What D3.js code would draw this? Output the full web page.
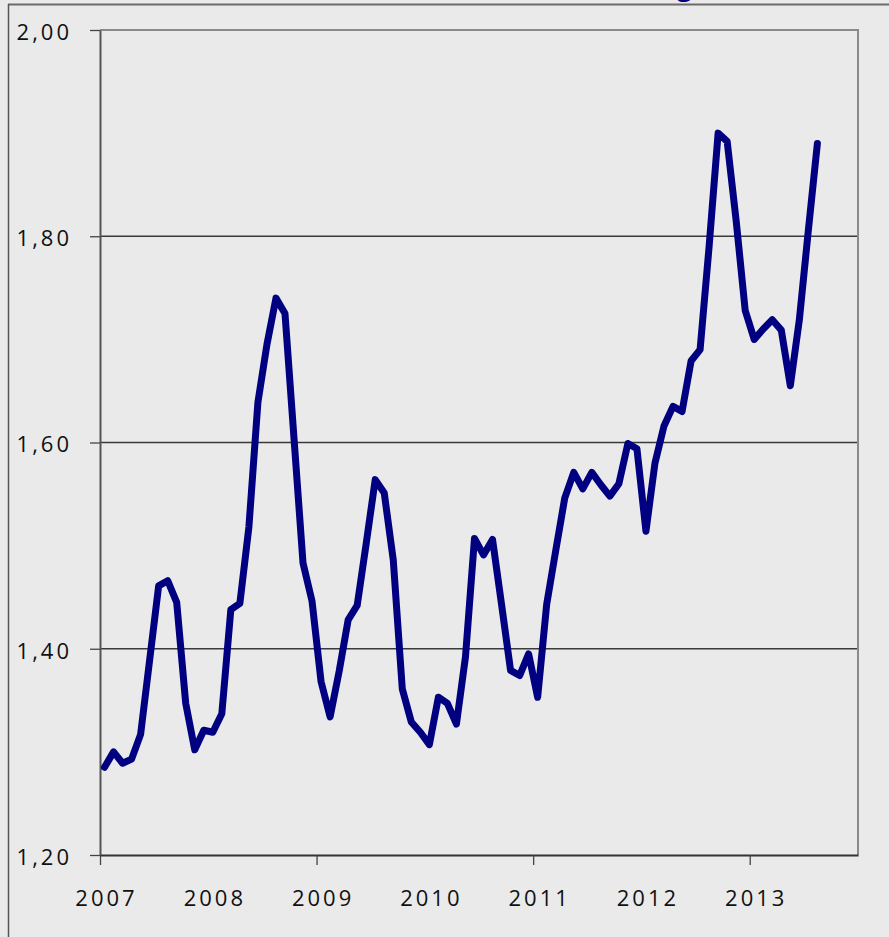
<!DOCTYPE html>
<html>
<head>
<meta charset="utf-8">
<script src="https://cdn.jsdelivr.net/npm/d3@7"></script>
<style>
  body { margin: 0; background: #eaeaea; overflow: hidden; }
  svg { display: block; }
  text { font-family: "Open Sans", sans-serif; fill: #111; }
</style>
</head>
<body>
<script>
// monthly values, Jan 2007 .. Aug 2013
var values = [
  1.285, 1.300, 1.289, 1.293, 1.317, 1.389, 1.461, 1.466, 1.445, 1.347, 1.302, 1.321,
  1.319, 1.337, 1.438, 1.444, 1.518, 1.639, 1.695, 1.740, 1.725, 1.604, 1.483, 1.446,
  1.368, 1.334, 1.378, 1.428, 1.442, 1.502, 1.564, 1.551, 1.486, 1.361, 1.329, 1.319,
  1.307, 1.353, 1.347, 1.327, 1.392, 1.507, 1.491, 1.506, 1.443, 1.379, 1.374, 1.395,
  1.353, 1.443, 1.495, 1.546, 1.571, 1.555, 1.571, 1.559, 1.548, 1.560, 1.599, 1.594,
  1.514, 1.580, 1.616, 1.635, 1.630, 1.679, 1.690, 1.790, 1.900, 1.892, 1.815, 1.728,
  1.700, 1.710, 1.719, 1.709, 1.655, 1.719, 1.806, 1.890
];
var years = ["2007", "2008", "2009", "2010", "2011", "2012", "2013"];
var yTicks = [1.2, 1.4, 1.6, 1.8, 2.0];
var monthsShown = 84;

var w = 889;
var h = 937;
var plotL = 100, plotR = 858, plotT = 30, plotB = 855;

var svg = d3.select("body")
            .append("svg")
            .attr("width", w)
            .attr("height", h);

// outer frame of the chart box (cut off at right / bottom)
svg.append("line").attr("x1", 8).attr("x2", w).attr("y1", 4.5).attr("y2", 4.5)
   .attr("stroke", "#6b6b6b").attr("stroke-width", 2);
svg.append("line").attr("x1", 8.5).attr("x2", 8.5).attr("y1", 4).attr("y2", h)
   .attr("stroke", "#555").attr("stroke-width", 1.5);

// bit of the title that is visible at the top edge
svg.append("text")
   .attr("x", 677).attr("y", -4)
   .style("font-size", "26px").style("font-weight", "bold").style("fill", "#000080")
   .text("g");

var x = d3.scaleLinear().domain([0, monthsShown]).range([plotL, plotR]);
var y = d3.scaleLinear().domain([1.2, 2.0]).range([plotB, plotT]);

//gridlines
svg.append("g")
   .selectAll("line")
   .data(yTicks.filter(function(d){ return d > 1.2 && d < 2.0; }))
   .enter()
   .append("line")
   .attr("x1", plotL).attr("x2", plotR)
   .attr("y1", function(d){ return y(d); })
   .attr("y2", function(d){ return y(d); })
   .attr("stroke", "#3a3a3a")
   .attr("stroke-width", 1.3);

// top and right border of plot
svg.append("path")
   .attr("d", "M" + plotL + "," + plotT + "H" + plotR + "V" + plotB)
   .attr("fill", "none")
   .attr("stroke", "#8a8a8a")
   .attr("stroke-width", 2);

//y axis
var yAxis = d3.axisLeft(y)
    .tickValues(yTicks)
    .tickSize(10)
    .tickSizeOuter(0)
    .tickPadding(18)
    .tickFormat(function(d){ return d.toFixed(2).replace(".", ","); });

var yg = svg.append("g")
   .attr("transform", "translate(" + plotL + ",0)")
   .call(yAxis);
yg.select(".domain").attr("stroke", "#555").attr("stroke-width", 2);
yg.selectAll(".tick line").attr("stroke", "#444").attr("stroke-width", 1.3);
yg.selectAll(".tick text")
  .attr("dy", "0.43em")
  .style("font-size", "22px")
  .style("letter-spacing", "3px");

//x axis: tick marks every two years
var xTicks = d3.axisBottom(x)
    .tickValues(d3.range(0, monthsShown, 24))
    .tickSize(10)
    .tickSizeOuter(0)
    .tickFormat("");
var xg = svg.append("g")
   .attr("transform", "translate(0," + plotB + ")")
   .call(xTicks);
xg.select(".domain").attr("stroke", "#333").attr("stroke-width", 2);
xg.selectAll(".tick line").attr("stroke", "#444").attr("stroke-width", 1.3);

//x labels, one per year at the january point
var xLabels = d3.axisBottom(x)
    .tickValues(years.map(function(d, i){ return i * 12 + 0.5; }))
    .tickSize(0)
    .tickPadding(35)
    .tickFormat(function(d, i){ return years[i]; });
var xl = svg.append("g")
   .attr("transform", "translate(1.5," + plotB + ")")
   .call(xLabels);
xl.select(".domain").remove();
xl.selectAll(".tick text")
  .style("font-size", "22px")
  .style("letter-spacing", "3px");

svg.selectAll(".tick text").style("fill", "#111").style("font-family", "'Open Sans', sans-serif");

//the series
var line = d3.line()
    .x(function(d, i){ return x(i + 0.5); })
    .y(function(d){ return y(d); });

svg.append("path")
   .datum(values)
   .attr("d", line)
   .attr("fill", "none")
   .attr("stroke", "#000080")
   .attr("stroke-width", 7)
   .attr("stroke-linejoin", "round")
   .attr("stroke-linecap", "round");
</script>
</body>
</html>
